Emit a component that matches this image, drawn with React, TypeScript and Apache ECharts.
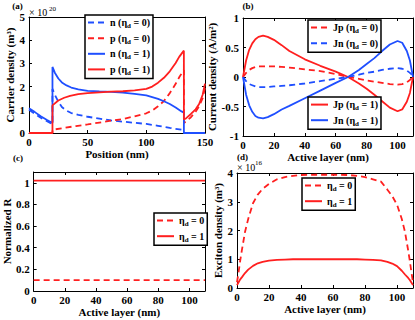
import React, { useEffect, useRef } from 'react';
import * as echarts from 'echarts';

// ---------- Panel (a): carrier density vs position (x10^20 m^-3) ----------
const aN1X = [0, 5, 10, 15, 20, 20, 22, 25, 28, 32, 36, 42, 50, 60, 70, 80, 90, 100, 110, 115, 120, 125, 130, 132, 132, 150];
const aN1Y = [1.07, 0.9, 0.72, 0.57, 0.43, 2.85, 2.6, 2.35, 2.18, 2.05, 1.96, 1.88, 1.82, 1.79, 1.77, 1.74, 1.69, 1.62, 1.47, 1.37, 1.25, 1.1, 0.93, 0.88, 0, 0];
const aP1X = [0, 20, 20, 25, 30, 35, 42, 50, 60, 70, 80, 90, 100, 105, 110, 115, 120, 125, 128, 132, 132, 134, 138, 142, 145, 148, 150];
const aP1Y = [0, 0, 1.19, 1.4, 1.52, 1.6, 1.68, 1.72, 1.75, 1.78, 1.8, 1.84, 1.9, 2.0, 2.17, 2.38, 2.66, 3.02, 3.28, 3.55, 0.58, 0.64, 0.82, 1.02, 1.25, 1.65, 2.13];
const aN0X = [0, 5, 10, 15, 20, 20, 22, 25, 28, 32, 36, 42, 50, 60, 70, 80, 90, 100, 110, 120, 130, 132, 132, 150];
const aN0Y = [1.0, 0.83, 0.66, 0.52, 0.38, 1.9, 1.65, 1.35, 1.12, 0.96, 0.86, 0.78, 0.7, 0.62, 0.54, 0.49, 0.44, 0.39, 0.31, 0.22, 0.14, 0.12, 0, 0];
const aP0X = [0, 20, 20, 30, 40, 50, 60, 70, 80, 90, 100, 105, 110, 115, 120, 125, 128, 132, 132, 134, 138, 142, 145, 148, 150];
const aP0Y = [0, 0, 0.14, 0.22, 0.3, 0.37, 0.45, 0.53, 0.6, 0.72, 0.85, 0.97, 1.15, 1.38, 1.72, 2.12, 2.4, 2.72, 0.43, 0.5, 0.68, 0.92, 1.15, 1.5, 1.95];

// ---------- Panel (b): current density vs active layer ----------
const bX = [0, 2, 4, 6, 8, 10, 13, 16, 20, 25, 30, 40, 50, 60, 68, 75, 80, 85, 90, 95, 100, 103, 106, 108, 110];
const bJp1 = [0, 0.28, 0.46, 0.57, 0.64, 0.68, 0.7, 0.68, 0.63, 0.54, 0.44, 0.3, 0.19, 0.09, 0, -0.11, -0.2, -0.3, -0.41, -0.52, -0.58, -0.55, -0.42, -0.27, 0];
const bJn1 = [0, -0.3, -0.48, -0.59, -0.66, -0.69, -0.7, -0.68, -0.63, -0.55, -0.49, -0.36, -0.23, -0.1, 0, 0.12, 0.22, 0.32, 0.44, 0.55, 0.61, 0.58, 0.44, 0.28, 0];
const bJp0 = [0, 0.07, 0.12, 0.15, 0.17, 0.18, 0.18, 0.18, 0.18, 0.17, 0.16, 0.13, 0.1, 0.05, 0, -0.03, -0.06, -0.08, -0.1, -0.12, -0.13, -0.12, -0.09, -0.05, 0];
const bJn0 = [0, -0.07, -0.12, -0.14, -0.16, -0.17, -0.17, -0.17, -0.16, -0.15, -0.14, -0.11, -0.07, -0.03, 0, 0.04, 0.07, 0.09, 0.12, 0.14, 0.15, 0.14, 0.11, 0.07, 0.02];

// ---------- Panel (c): normalized R ----------
const cX = [0, 110];
const cR0 = [0.1, 0.1];
const cR1 = [1.02, 1.02];

// ---------- Panel (d): exciton density (x10^16 m^-3) ----------
const dX = [0, 1, 2, 3, 5, 7, 10, 13, 16, 20, 25, 30, 35, 40, 50, 55, 60, 70, 75, 80, 85, 90, 94, 97, 100, 103, 105, 107, 108, 109, 110];
const dE0 = [0.2, 0.55, 0.95, 1.3, 1.95, 2.4, 2.95, 3.25, 3.45, 3.62, 3.78, 3.86, 3.9, 3.93, 3.94, 3.94, 3.94, 3.93, 3.9, 3.86, 3.78, 3.7, 3.42, 3.2, 2.9, 2.4, 1.95, 1.3, 0.95, 0.55, 0.2];
const dE1 = [0.1, 0.2, 0.3, 0.37, 0.52, 0.64, 0.77, 0.86, 0.91, 0.95, 0.98, 0.99, 1.0, 1.0, 1.0, 1.0, 1.0, 1.0, 1.0, 0.99, 0.98, 0.96, 0.91, 0.85, 0.76, 0.6, 0.47, 0.35, 0.28, 0.19, 0.1];

const zip = (xs: number[], ys: number[]) => xs.map((x, i) => [x, ys[i]]);

const FONT = 'Liberation Serif';
const RED = '#ff1f1f';
const BLUE = '#1f4fff';
const DASH = [6, 4];

const LABELS: Record<string, string> = {
  a_n0: '{t|n (η}{s|d}{t| = 0)}',
  a_p0: '{t|p (η}{s|d}{t| = 0)}',
  a_n1: '{t|n (η}{s|d}{t| = 1)}',
  a_p1: '{t|p (η}{s|d}{t| = 1)}',
  b_jp0: '{t|Jp (η}{s|d}{t| = 0)}',
  b_jn0: '{t|Jn (η}{s|d}{t| = 0)}',
  b_jp1: '{t|Jp (η}{s|d}{t| = 1)}',
  b_jn1: '{t|Jn (η}{s|d}{t| = 1)}',
  c0: '{t|η}{s|d}{t| = 0}',
  c1: '{t|η}{s|d}{t| = 1}',
  d0: '{t|η}{s|d}{t| = 0}',
  d1: '{t|η}{s|d}{t| = 1}',
};

const RICH = {
  t: { fontFamily: FONT, fontWeight: 'bold', fontSize: 10, color: '#000', lineHeight: 14 },
  s: { fontFamily: FONT, fontWeight: 'bold', fontSize: 7, color: '#000', lineHeight: 6, verticalAlign: 'bottom' },
};

const nameStyle = { fontFamily: FONT, fontWeight: 'bold', fontSize: 11, color: '#000' };
const labelStyle = { fontFamily: FONT, fontWeight: 'bold', fontSize: 11, color: '#000' };

function mainAxis(grid: number, pos: string, min: number, max: number, interval: number, name: string, nameGap: number, showMax: boolean) {
  return {
    type: 'value', gridIndex: grid, position: pos, min, max, interval,
    name, nameLocation: 'middle', nameGap, nameTextStyle: nameStyle,
    axisLine: { show: true, onZero: false, lineStyle: { color: '#000', width: 1 } },
    axisTick: { show: true, inside: true, length: 3, lineStyle: { color: '#000', width: 1 } },
    axisLabel: { ...labelStyle, margin: pos === 'bottom' ? 3 : 4, showMaxLabel: showMax },
    splitLine: { show: false },
  };
}
function boxAxis(grid: number, pos: string, min: number, max: number, interval: number) {
  return {
    type: 'value', gridIndex: grid, position: pos, min, max, interval,
    axisLine: { show: true, onZero: false, lineStyle: { color: '#000', width: 1 } },
    axisTick: { show: true, inside: true, length: 3, lineStyle: { color: '#000', width: 1 } },
    axisLabel: { show: false },
    splitLine: { show: false },
  };
}

function line(name: string, data: number[][], color: string, dashed: boolean, xi: number, yi: number) {
  return {
    type: 'line', name, data, xAxisIndex: xi, yAxisIndex: yi, symbol: 'none', showSymbol: false,
    lineStyle: { color, width: 1.8, type: dashed ? DASH : 'solid' },
    itemStyle: { color },
    z: 2,
  };
}

function legend(names: string[], left: number, top: number) {
  return {
    data: names, left, top, orient: 'vertical', selectedMode: false,
    backgroundColor: '#fff', borderColor: '#000', borderWidth: 1.5, borderRadius: 0,
    itemWidth: 17, itemHeight: 14, itemGap: 3, padding: [2, 3, 2, 2],
    itemStyle: { opacity: 0, borderWidth: 0 },
    textStyle: { fontFamily: FONT, fontWeight: 'bold', fontSize: 10, color: '#000', rich: RICH },
    formatter: (n: string) => LABELS[n],
  };
}

function txt(text: string, x: number, y: number, size: number, bold: boolean, align = 'center') {
  return {
    type: 'text', x, y,
    style: {
      text, fill: '#000', font: `${bold ? 'bold ' : ''}${size}px "${FONT}"`,
      textAlign: align, textVerticalAlign: 'middle',
    },
  };
}

export default function App() {
  const ref = useRef<HTMLDivElement>(null);
  useEffect(() => {
    if (!ref.current) return;
    const chart = echarts.init(ref.current, null, { renderer: 'svg', width: 415, height: 320 });
    chart.setOption({
      animation: false,
      backgroundColor: '#fff',
      grid: [
        { left: 29, top: 17, width: 176, height: 116 },
        { left: 243, top: 18, width: 170, height: 118 },
        { left: 29, top: 172, width: 176, height: 119 },
        { left: 237, top: 173, width: 176, height: 115 },
      ],
      xAxis: [
        mainAxis(0, 'bottom', 0, 150, 50, 'Position (nm)', 15, true),
        boxAxis(0, 'top', 0, 150, 50),
        mainAxis(1, 'bottom', 0, 110, 20, 'Active layer (nm)', 15, false),
        boxAxis(1, 'top', 0, 110, 20),
        mainAxis(2, 'bottom', 0, 110, 20, 'Active layer (nm)', 15, false),
        boxAxis(2, 'top', 0, 110, 20),
        mainAxis(3, 'bottom', 0, 110, 20, 'Active layer (nm)', 15, false),
        boxAxis(3, 'top', 0, 110, 20),
      ],
      yAxis: [
        mainAxis(0, 'left', 0, 5, 1, 'Carrier density (m³)', 11, true),
        boxAxis(0, 'right', 0, 5, 1),
        mainAxis(1, 'left', -1, 1, 0.5, 'Current density (A/m²)', 20, true),
        boxAxis(1, 'right', -1, 1, 0.5),
        mainAxis(2, 'left', 0, 1.1, 0.2, 'Normalized R', 16, false),
        boxAxis(2, 'right', 0, 1.1, 0.2),
        mainAxis(3, 'left', 0, 4, 1, 'Exciton density (m³)', 10, true),
        boxAxis(3, 'right', 0, 4, 1),
      ],
      legend: [
        legend(['a_n0', 'a_p0', 'a_n1', 'a_p1'], 85, 15),
        legend(['b_jp0', 'b_jn0'], 308, 20),
        legend(['b_jp1', 'b_jn1'], 308, 97),
        legend(['c0', 'c1'], 154, 213),
        legend(['d0', 'd1'], 302, 178),
      ],
      series: [
        line('a_n0', zip(aN0X, aN0Y), BLUE, true, 0, 0),
        line('a_p0', zip(aP0X, aP0Y), RED, true, 0, 0),
        line('a_n1', zip(aN1X, aN1Y), BLUE, false, 0, 0),
        line('a_p1', zip(aP1X, aP1Y), RED, false, 0, 0),
        line('b_jp0', zip(bX, bJp0), RED, true, 2, 2),
        line('b_jn0', zip(bX, bJn0), BLUE, true, 2, 2),
        line('b_jp1', zip(bX, bJp1), RED, false, 2, 2),
        line('b_jn1', zip(bX, bJn1), BLUE, false, 2, 2),
        line('c0', zip(cX, cR0), RED, true, 4, 4),
        line('c1', zip(cX, cR1), RED, false, 4, 4),
        line('d0', zip(dX, dE0), RED, true, 6, 6),
        line('d1', zip(dX, dE1), RED, false, 6, 6),
      ],
      graphic: [
        txt('(a)', 17.5, 6, 9, true),
        txt('× 10', 29, 12.5, 10, false, 'left'),
        txt('20', 49, 8.5, 7, false, 'left'),
        txt('(b)', 248, 6, 9, true),
        txt('(c)', 18, 157.5, 9, true),
        txt('(d)', 242.5, 157, 9, true),
        txt('× 10', 237, 167, 10, false, 'left'),
        txt('16', 255, 163, 7, false, 'left'),
      ],
    });
    return () => chart.dispose();
  }, []);
  return <div ref={ref} style={{ position: 'fixed', left: 0, top: 0, width: 415, height: 320 }} />;
}
